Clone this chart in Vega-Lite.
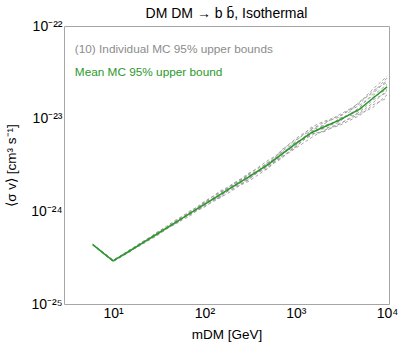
{
  "$schema": "https://vega.github.io/schema/vega-lite/v6.json",
  "autosize": {"type": "none"},
  "padding": {"left": 64, "top": 26, "right": 10, "bottom": 47},
  "width": 325,
  "height": 278,
  "background": "white",
  "title": {"text": "DM DM → b b̄, Isothermal", "fontSize": 14, "font": "Liberation Sans", "fontWeight": "normal", "color": "black", "anchor": "middle", "offset": -2},
  "config": {
    "view": {"stroke": null},
    "font": "Liberation Sans",
    "axis": {"grid": false, "domainColor": "#a6a6a6", "tickColor": "#a6a6a6", "labelFont": "Liberation Sans", "titleFont": "Liberation Sans", "labelColor": "black", "titleColor": "black", "titleFontWeight": "normal"}
  },
  "datasets": {
    "mean": [
      {"m": 6, "v": 4.37e-25, "k": "mean"},
      {"m": 8, "v": 3.48e-25, "k": "mean"},
      {"m": 10, "v": 2.92e-25, "k": "mean"},
      {"m": 15, "v": 3.71e-25, "k": "mean"},
      {"m": 20, "v": 4.43e-25, "k": "mean"},
      {"m": 30, "v": 5.66e-25, "k": "mean"},
      {"m": 50, "v": 7.76e-25, "k": "mean"},
      {"m": 70, "v": 9.55e-25, "k": "mean"},
      {"m": 100, "v": 1.19e-24, "k": "mean"},
      {"m": 150, "v": 1.52e-24, "k": "mean"},
      {"m": 200, "v": 1.82e-24, "k": "mean"},
      {"m": 300, "v": 2.32e-24, "k": "mean"},
      {"m": 500, "v": 3.21e-24, "k": "mean"},
      {"m": 700, "v": 4.12e-24, "k": "mean"},
      {"m": 1000, "v": 5.38e-24, "k": "mean"},
      {"m": 1500, "v": 7.10e-24, "k": "mean"},
      {"m": 2000, "v": 8.09e-24, "k": "mean"},
      {"m": 3000, "v": 9.65e-24, "k": "mean"},
      {"m": 5000, "v": 1.27e-23, "k": "mean"},
      {"m": 7000, "v": 1.66e-23, "k": "mean"},
      {"m": 10000, "v": 2.20e-23, "k": "mean"}
    ],
    "mc": [
      {"run": 1, "m": 6, "v": 4.41e-25, "k": "ind"}, {"run": 1, "m": 8, "v": 3.50e-25, "k": "ind"}, {"run": 1, "m": 10, "v": 2.96e-25, "k": "ind"}, {"run": 1, "m": 15, "v": 3.79e-25, "k": "ind"}, {"run": 1, "m": 20, "v": 4.49e-25, "k": "ind"}, {"run": 1, "m": 30, "v": 5.61e-25, "k": "ind"}, {"run": 1, "m": 50, "v": 7.99e-25, "k": "ind"}, {"run": 1, "m": 70, "v": 1.016e-24, "k": "ind"}, {"run": 1, "m": 100, "v": 1.22e-24, "k": "ind"}, {"run": 1, "m": 150, "v": 1.46e-24, "k": "ind"}, {"run": 1, "m": 200, "v": 1.85e-24, "k": "ind"}, {"run": 1, "m": 300, "v": 2.49e-24, "k": "ind"}, {"run": 1, "m": 500, "v": 3.56e-24, "k": "ind"}, {"run": 1, "m": 700, "v": 4.31e-24, "k": "ind"}, {"run": 1, "m": 1000, "v": 5.18e-24, "k": "ind"}, {"run": 1, "m": 1500, "v": 7.73e-24, "k": "ind"}, {"run": 1, "m": 2000, "v": 9.03e-24, "k": "ind"}, {"run": 1, "m": 3000, "v": 1.040e-23, "k": "ind"}, {"run": 1, "m": 5000, "v": 1.50e-23, "k": "ind"}, {"run": 1, "m": 7000, "v": 2.09e-23, "k": "ind"}, {"run": 1, "m": 10000, "v": 2.86e-23, "k": "ind"},
      {"run": 2, "m": 6, "v": 4.33e-25, "k": "ind"}, {"run": 2, "m": 8, "v": 3.44e-25, "k": "ind"}, {"run": 2, "m": 10, "v": 2.89e-25, "k": "ind"}, {"run": 2, "m": 15, "v": 3.69e-25, "k": "ind"}, {"run": 2, "m": 20, "v": 4.32e-25, "k": "ind"}, {"run": 2, "m": 30, "v": 5.43e-25, "k": "ind"}, {"run": 2, "m": 50, "v": 7.63e-25, "k": "ind"}, {"run": 2, "m": 70, "v": 9.62e-25, "k": "ind"}, {"run": 2, "m": 100, "v": 1.13e-24, "k": "ind"}, {"run": 2, "m": 150, "v": 1.41e-24, "k": "ind"}, {"run": 2, "m": 200, "v": 1.66e-24, "k": "ind"}, {"run": 2, "m": 300, "v": 2.20e-24, "k": "ind"}, {"run": 2, "m": 500, "v": 3.14e-24, "k": "ind"}, {"run": 2, "m": 700, "v": 3.80e-24, "k": "ind"}, {"run": 2, "m": 1000, "v": 4.80e-24, "k": "ind"}, {"run": 2, "m": 1500, "v": 6.28e-24, "k": "ind"}, {"run": 2, "m": 2000, "v": 7.45e-24, "k": "ind"}, {"run": 2, "m": 3000, "v": 8.44e-24, "k": "ind"}, {"run": 2, "m": 5000, "v": 1.08e-23, "k": "ind"}, {"run": 2, "m": 7000, "v": 1.41e-23, "k": "ind"}, {"run": 2, "m": 10000, "v": 1.67e-23, "k": "ind"},
      {"run": 3, "m": 6, "v": 4.39e-25, "k": "ind"}, {"run": 3, "m": 8, "v": 3.51e-25, "k": "ind"}, {"run": 3, "m": 10, "v": 2.93e-25, "k": "ind"}, {"run": 3, "m": 15, "v": 3.68e-25, "k": "ind"}, {"run": 3, "m": 20, "v": 4.52e-25, "k": "ind"}, {"run": 3, "m": 30, "v": 5.87e-25, "k": "ind"}, {"run": 3, "m": 50, "v": 8.22e-25, "k": "ind"}, {"run": 3, "m": 70, "v": 9.82e-25, "k": "ind"}, {"run": 3, "m": 100, "v": 1.28e-24, "k": "ind"}, {"run": 3, "m": 150, "v": 1.61e-24, "k": "ind"}, {"run": 3, "m": 200, "v": 1.87e-24, "k": "ind"}, {"run": 3, "m": 300, "v": 2.27e-24, "k": "ind"}, {"run": 3, "m": 500, "v": 3.36e-24, "k": "ind"}, {"run": 3, "m": 700, "v": 4.52e-24, "k": "ind"}, {"run": 3, "m": 1000, "v": 6.10e-24, "k": "ind"}, {"run": 3, "m": 1500, "v": 7.94e-24, "k": "ind"}, {"run": 3, "m": 2000, "v": 8.43e-24, "k": "ind"}, {"run": 3, "m": 3000, "v": 9.37e-24, "k": "ind"}, {"run": 3, "m": 5000, "v": 1.32e-23, "k": "ind"}, {"run": 3, "m": 7000, "v": 1.86e-23, "k": "ind"}, {"run": 3, "m": 10000, "v": 2.60e-23, "k": "ind"},
      {"run": 4, "m": 6, "v": 4.35e-25, "k": "ind"}, {"run": 4, "m": 8, "v": 3.48e-25, "k": "ind"}, {"run": 4, "m": 10, "v": 2.87e-25, "k": "ind"}, {"run": 4, "m": 15, "v": 3.66e-25, "k": "ind"}, {"run": 4, "m": 20, "v": 4.45e-25, "k": "ind"}, {"run": 4, "m": 30, "v": 5.74e-25, "k": "ind"}, {"run": 4, "m": 50, "v": 7.50e-25, "k": "ind"}, {"run": 4, "m": 70, "v": 8.97e-25, "k": "ind"}, {"run": 4, "m": 100, "v": 1.17e-24, "k": "ind"}, {"run": 4, "m": 150, "v": 1.56e-24, "k": "ind"}, {"run": 4, "m": 200, "v": 1.94e-24, "k": "ind"}, {"run": 4, "m": 300, "v": 2.37e-24, "k": "ind"}, {"run": 4, "m": 500, "v": 3.03e-24, "k": "ind"}, {"run": 4, "m": 700, "v": 3.72e-24, "k": "ind"}, {"run": 4, "m": 1000, "v": 5.11e-24, "k": "ind"}, {"run": 4, "m": 1500, "v": 7.41e-24, "k": "ind"}, {"run": 4, "m": 2000, "v": 7.76e-24, "k": "ind"}, {"run": 4, "m": 3000, "v": 8.69e-24, "k": "ind"}, {"run": 4, "m": 5000, "v": 1.18e-23, "k": "ind"}, {"run": 4, "m": 7000, "v": 1.59e-23, "k": "ind"}, {"run": 4, "m": 10000, "v": 1.92e-23, "k": "ind"},
      {"run": 5, "m": 6, "v": 4.43e-25, "k": "ind"}, {"run": 5, "m": 8, "v": 3.52e-25, "k": "ind"}, {"run": 5, "m": 10, "v": 2.94e-25, "k": "ind"}, {"run": 5, "m": 15, "v": 3.76e-25, "k": "ind"}, {"run": 5, "m": 20, "v": 4.57e-25, "k": "ind"}, {"run": 5, "m": 30, "v": 5.76e-25, "k": "ind"}, {"run": 5, "m": 50, "v": 7.76e-25, "k": "ind"}, {"run": 5, "m": 70, "v": 9.29e-25, "k": "ind"}, {"run": 5, "m": 100, "v": 1.25e-24, "k": "ind"}, {"run": 5, "m": 150, "v": 1.67e-24, "k": "ind"}, {"run": 5, "m": 200, "v": 1.91e-24, "k": "ind"}, {"run": 5, "m": 300, "v": 2.55e-24, "k": "ind"}, {"run": 5, "m": 500, "v": 3.32e-24, "k": "ind"}, {"run": 5, "m": 700, "v": 4.12e-24, "k": "ind"}, {"run": 5, "m": 1000, "v": 5.73e-24, "k": "ind"}, {"run": 5, "m": 1500, "v": 8.16e-24, "k": "ind"}, {"run": 5, "m": 2000, "v": 9.29e-24, "k": "ind"}, {"run": 5, "m": 3000, "v": 1.072e-23, "k": "ind"}, {"run": 5, "m": 5000, "v": 1.39e-23, "k": "ind"}, {"run": 5, "m": 7000, "v": 1.78e-23, "k": "ind"}, {"run": 5, "m": 10000, "v": 2.33e-23, "k": "ind"},
      {"run": 6, "m": 6, "v": 4.31e-25, "k": "ind"}, {"run": 6, "m": 8, "v": 3.46e-25, "k": "ind"}, {"run": 6, "m": 10, "v": 2.86e-25, "k": "ind"}, {"run": 6, "m": 15, "v": 3.63e-25, "k": "ind"}, {"run": 6, "m": 20, "v": 4.38e-25, "k": "ind"}, {"run": 6, "m": 30, "v": 5.66e-25, "k": "ind"}, {"run": 6, "m": 50, "v": 7.89e-25, "k": "ind"}, {"run": 6, "m": 70, "v": 9.42e-25, "k": "ind"}, {"run": 6, "m": 100, "v": 1.11e-24, "k": "ind"}, {"run": 6, "m": 150, "v": 1.48e-24, "k": "ind"}, {"run": 6, "m": 200, "v": 1.74e-24, "k": "ind"}, {"run": 6, "m": 300, "v": 2.09e-24, "k": "ind"}, {"run": 6, "m": 500, "v": 2.93e-24, "k": "ind"}, {"run": 6, "m": 700, "v": 3.98e-24, "k": "ind"}, {"run": 6, "m": 1000, "v": 5.52e-24, "k": "ind"}, {"run": 6, "m": 1500, "v": 6.82e-24, "k": "ind"}, {"run": 6, "m": 2000, "v": 7.15e-24, "k": "ind"}, {"run": 6, "m": 3000, "v": 8.83e-24, "k": "ind"}, {"run": 6, "m": 5000, "v": 1.12e-23, "k": "ind"}, {"run": 6, "m": 7000, "v": 1.32e-23, "k": "ind"}, {"run": 6, "m": 10000, "v": 1.81e-23, "k": "ind"},
      {"run": 7, "m": 6, "v": 4.37e-25, "k": "ind"}, {"run": 7, "m": 8, "v": 3.53e-25, "k": "ind"}, {"run": 7, "m": 10, "v": 2.98e-25, "k": "ind"}, {"run": 7, "m": 15, "v": 3.73e-25, "k": "ind"}, {"run": 7, "m": 20, "v": 4.35e-25, "k": "ind"}, {"run": 7, "m": 30, "v": 5.82e-25, "k": "ind"}, {"run": 7, "m": 50, "v": 7.41e-25, "k": "ind"}, {"run": 7, "m": 70, "v": 9.95e-25, "k": "ind"}, {"run": 7, "m": 100, "v": 1.19e-24, "k": "ind"}, {"run": 7, "m": 150, "v": 1.44e-24, "k": "ind"}, {"run": 7, "m": 200, "v": 1.98e-24, "k": "ind"}, {"run": 7, "m": 300, "v": 2.42e-24, "k": "ind"}, {"run": 7, "m": 500, "v": 2.90e-24, "k": "ind"}, {"run": 7, "m": 700, "v": 4.42e-24, "k": "ind"}, {"run": 7, "m": 1000, "v": 5.59e-24, "k": "ind"}, {"run": 7, "m": 1500, "v": 6.55e-24, "k": "ind"}, {"run": 7, "m": 2000, "v": 8.67e-24, "k": "ind"}, {"run": 7, "m": 3000, "v": 1.104e-23, "k": "ind"}, {"run": 7, "m": 5000, "v": 1.45e-23, "k": "ind"}, {"run": 7, "m": 7000, "v": 2.00e-23, "k": "ind"}, {"run": 7, "m": 10000, "v": 2.46e-23, "k": "ind"},
      {"run": 8, "m": 6, "v": 4.40e-25, "k": "ind"}, {"run": 8, "m": 8, "v": 3.43e-25, "k": "ind"}, {"run": 8, "m": 10, "v": 2.92e-25, "k": "ind"}, {"run": 8, "m": 15, "v": 3.80e-25, "k": "ind"}, {"run": 8, "m": 20, "v": 4.54e-25, "k": "ind"}, {"run": 8, "m": 30, "v": 5.50e-25, "k": "ind"}, {"run": 8, "m": 50, "v": 8.08e-25, "k": "ind"}, {"run": 8, "m": 70, "v": 9.16e-25, "k": "ind"}, {"run": 8, "m": 100, "v": 1.24e-24, "k": "ind"}, {"run": 8, "m": 150, "v": 1.53e-24, "k": "ind"}, {"run": 8, "m": 200, "v": 1.79e-24, "k": "ind"}, {"run": 8, "m": 300, "v": 2.16e-24, "k": "ind"}, {"run": 8, "m": 500, "v": 3.44e-24, "k": "ind"}, {"run": 8, "m": 700, "v": 3.89e-24, "k": "ind"}, {"run": 8, "m": 1000, "v": 4.92e-24, "k": "ind"}, {"run": 8, "m": 1500, "v": 7.21e-24, "k": "ind"}, {"run": 8, "m": 2000, "v": 7.87e-24, "k": "ind"}, {"run": 8, "m": 3000, "v": 9.95e-24, "k": "ind"}, {"run": 8, "m": 5000, "v": 1.22e-23, "k": "ind"}, {"run": 8, "m": 7000, "v": 1.70e-23, "k": "ind"}, {"run": 8, "m": 10000, "v": 2.08e-23, "k": "ind"},
      {"run": 9, "m": 6, "v": 4.34e-25, "k": "ind"}, {"run": 9, "m": 8, "v": 3.49e-25, "k": "ind"}, {"run": 9, "m": 10, "v": 2.95e-25, "k": "ind"}, {"run": 9, "m": 15, "v": 3.62e-25, "k": "ind"}, {"run": 9, "m": 20, "v": 4.40e-25, "k": "ind"}, {"run": 9, "m": 30, "v": 5.92e-25, "k": "ind"}, {"run": 9, "m": 50, "v": 7.54e-25, "k": "ind"}, {"run": 9, "m": 70, "v": 9.68e-25, "k": "ind"}, {"run": 9, "m": 100, "v": 1.15e-24, "k": "ind"}, {"run": 9, "m": 150, "v": 1.64e-24, "k": "ind"}, {"run": 9, "m": 200, "v": 1.71e-24, "k": "ind"}, {"run": 9, "m": 300, "v": 2.47e-24, "k": "ind"}, {"run": 9, "m": 500, "v": 3.10e-24, "k": "ind"}, {"run": 9, "m": 700, "v": 4.62e-24, "k": "ind"}, {"run": 9, "m": 1000, "v": 5.88e-24, "k": "ind"}, {"run": 9, "m": 1500, "v": 7.62e-24, "k": "ind"}, {"run": 9, "m": 2000, "v": 8.20e-24, "k": "ind"}, {"run": 9, "m": 3000, "v": 9.09e-24, "k": "ind"}, {"run": 9, "m": 5000, "v": 1.53e-23, "k": "ind"}, {"run": 9, "m": 7000, "v": 1.91e-23, "k": "ind"}, {"run": 9, "m": 10000, "v": 2.74e-23, "k": "ind"},
      {"run": 10, "m": 6, "v": 4.42e-25, "k": "ind"}, {"run": 10, "m": 8, "v": 3.47e-25, "k": "ind"}, {"run": 10, "m": 10, "v": 2.90e-25, "k": "ind"}, {"run": 10, "m": 15, "v": 3.75e-25, "k": "ind"}, {"run": 10, "m": 20, "v": 4.29e-25, "k": "ind"}, {"run": 10, "m": 30, "v": 5.56e-25, "k": "ind"}, {"run": 10, "m": 50, "v": 7.85e-25, "k": "ind"}, {"run": 10, "m": 70, "v": 9.35e-25, "k": "ind"}, {"run": 10, "m": 100, "v": 1.27e-24, "k": "ind"}, {"run": 10, "m": 150, "v": 1.40e-24, "k": "ind"}, {"run": 10, "m": 200, "v": 1.82e-24, "k": "ind"}, {"run": 10, "m": 300, "v": 2.23e-24, "k": "ind"}, {"run": 10, "m": 500, "v": 3.25e-24, "k": "ind"}, {"run": 10, "m": 700, "v": 4.27e-24, "k": "ind"}, {"run": 10, "m": 1000, "v": 4.99e-24, "k": "ind"}, {"run": 10, "m": 1500, "v": 6.92e-24, "k": "ind"}, {"run": 10, "m": 2000, "v": 7.25e-24, "k": "ind"}, {"run": 10, "m": 3000, "v": 1.010e-23, "k": "ind"}, {"run": 10, "m": 5000, "v": 1.14e-23, "k": "ind"}, {"run": 10, "m": 7000, "v": 1.48e-23, "k": "ind"}, {"run": 10, "m": 10000, "v": 2.02e-23, "k": "ind"}
    ]
  },
  "layer": [
    {
      "data": {"name": "mc"},
      "mark": {"type": "line", "strokeWidth": 1, "strokeDash": [3, 2.5], "opacity": 0.9},
      "encoding": {
        "x": {"field": "m", "type": "quantitative",
          "scale": {"type": "log", "domain": [2.9, 10500], "nice": false},
          "axis": {"orient": "bottom", "title": "mDM [GeV]", "titleFontSize": 13.5, "titlePadding": 7,
            "values": [3,4,5,6,7,8,9,10,20,30,40,50,60,70,80,90,100,200,300,400,500,600,700,800,900,1000,2000,3000,4000,5000,6000,7000,8000,9000,10000],
            "labelFontSize": 14, "labelPadding": 2, "labelOverlap": false, "labelFlush": false, "tickSize": 0,
            "labelExpr": "abs(log(datum.value)/LN10 - round(log(datum.value)/LN10)) > 0.01 ? '' : round(log(datum.value)/LN10) == 1 ? '10¹' : round(log(datum.value)/LN10) == 2 ? '10²' : round(log(datum.value)/LN10) == 3 ? '10³' : '10⁴'",
            "encode": {"ticks": {"update": {"y2": {"signal": "abs(log(datum.value)/LN10 - round(log(datum.value)/LN10)) < 0.01 ? -7 : -4"}}}}
          }
        },
        "y": {"field": "v", "type": "quantitative",
          "scale": {"type": "log", "domain": [1e-25, 1e-22], "nice": false},
          "axis": {"orient": "left", "title": "⟨σ v⟩ [cm³ s⁻¹]", "titleFontSize": 13.5, "titlePadding": 12,
            "values": [1e-25,2e-25,3e-25,4e-25,5e-25,6e-25,7e-25,8e-25,9e-25,1e-24,2e-24,3e-24,4e-24,5e-24,6e-24,7e-24,8e-24,9e-24,1e-23,2e-23,3e-23,4e-23,5e-23,6e-23,7e-23,8e-23,9e-23,1e-22],
            "labelFontSize": 14, "labelPadding": 2, "labelOverlap": false, "labelFlush": false, "tickSize": 0,
            "labelExpr": "abs(log(datum.value)/LN10 - round(log(datum.value)/LN10)) > 0.01 ? '' : round(log(datum.value)/LN10) == -22 ? '10⁻²²' : round(log(datum.value)/LN10) == -23 ? '10⁻²³' : round(log(datum.value)/LN10) == -24 ? '10⁻²⁴' : '10⁻²⁵'",
            "encode": {"ticks": {"update": {"x2": {"signal": "abs(log(datum.value)/LN10 - round(log(datum.value)/LN10)) < 0.01 ? 7 : 4"}}}}
          }
        },
        "color": {"field": "k", "type": "nominal",
          "scale": {"domain": ["ind", "mean"], "range": ["#9a9a9a", "#2a9a2a"]},
          "legend": {"title": null, "orient": "none", "legendX": -1, "legendY": 17, "symbolOpacity": 0, "symbolSize": 0, "symbolStrokeWidth": 0, "labelOffset": 0, "labelFontSize": 11.8, "labelFont": "Liberation Sans", "labelLimit": 0, "rowPadding": 10.5, "padding": 0,
            "labelExpr": "datum.value == 'mean' ? 'Mean MC 95% upper bound' : '(10) Individual MC 95% upper bounds'",
            "encode": {"labels": {"update": {"fill": {"signal": "datum.value == 'mean' ? '#2a9a2a' : '#8c8c8c'"}}}}
          }
        },
        "detail": {"field": "run", "type": "nominal"}
      }
    },
    {
      "data": {"name": "mean"},
      "mark": {"type": "line", "strokeWidth": 1.5},
      "encoding": {
        "x": {"field": "m", "type": "quantitative", "axis": null},
        "y": {"field": "v", "type": "quantitative", "axis": null},
        "color": {"field": "k", "type": "nominal"}
      }
    },
    {
      "data": {"name": "mean"},
      "mark": {"type": "line", "strokeOpacity": 0},
      "encoding": {
        "x": {"field": "m", "type": "quantitative",
          "axis": {"orient": "top", "title": null, "labels": false, "tickSize": 0,
            "values": [3,4,5,6,7,8,9,10,20,30,40,50,60,70,80,90,100,200,300,400,500,600,700,800,900,1000,2000,3000,4000,5000,6000,7000,8000,9000,10000],
            "encode": {"ticks": {"update": {"y2": {"signal": "abs(log(datum.value)/LN10 - round(log(datum.value)/LN10)) < 0.01 ? 7 : 4"}}}}
          }
        },
        "y": {"field": "v", "type": "quantitative",
          "axis": {"orient": "right", "title": null, "labels": false, "tickSize": 0,
            "values": [1e-25,2e-25,3e-25,4e-25,5e-25,6e-25,7e-25,8e-25,9e-25,1e-24,2e-24,3e-24,4e-24,5e-24,6e-24,7e-24,8e-24,9e-24,1e-23,2e-23,3e-23,4e-23,5e-23,6e-23,7e-23,8e-23,9e-23,1e-22],
            "encode": {"ticks": {"update": {"x2": {"signal": "abs(log(datum.value)/LN10 - round(log(datum.value)/LN10)) < 0.01 ? -7 : -4"}}}}
          }
        }
      }
    }
  ],
  "resolve": {"axis": {"x": "independent", "y": "independent"}}
}
